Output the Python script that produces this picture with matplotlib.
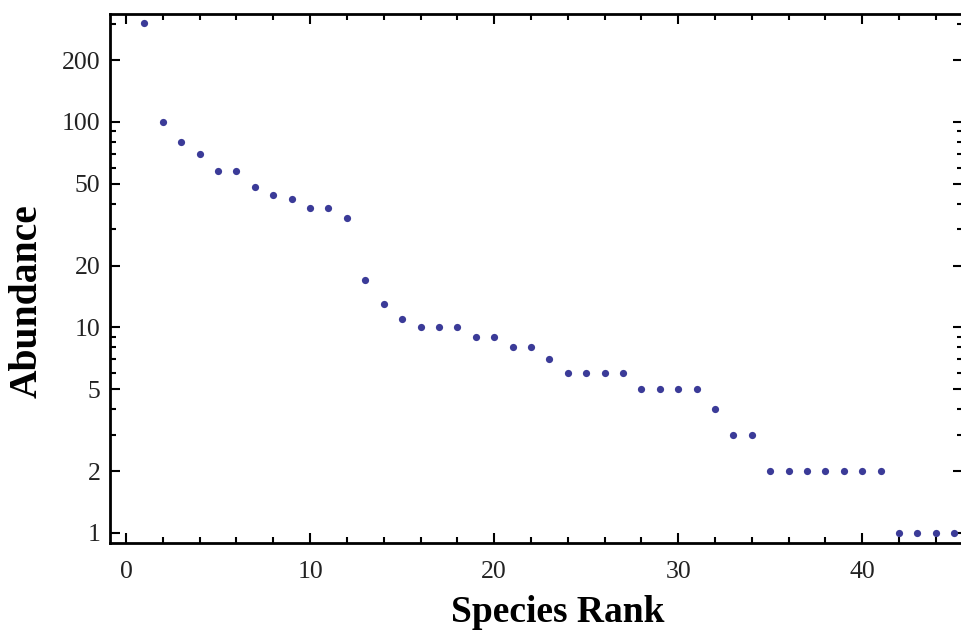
import matplotlib.pyplot as plt
from matplotlib.ticker import FixedLocator, FixedFormatter, NullFormatter

# species rank vs abundance
rank = list(range(1, 46))
abundance = [304, 100, 80, 70, 58, 58, 48, 44, 42, 38, 38, 34,
             17, 13, 11, 10, 10, 10, 9, 9, 8, 8, 7,
             6, 6, 6, 6, 5, 5, 5, 5, 4, 3, 3,
             2, 2, 2, 2, 2, 2, 2, 1, 1, 1, 1]

y_ticks = [1, 2, 5, 10, 20, 50, 100, 200]
y_minor = [3, 4, 6, 7, 8, 9, 30, 40, 60, 70, 80, 90, 300]

fig = plt.figure(figsize=(9.61, 6.37), dpi=100)
ax = fig.add_axes([0.1145, 0.1476, 0.888, 0.8304])

ax.plot(rank, abundance, 'o', color='#3b3b98', markersize=5.2, markeredgewidth=0)

ax.set_yscale('log')
ax.set_xlim(-0.87, 45.5)
ax.set_ylim(0.894, 335)

ax.xaxis.set_major_locator(FixedLocator([0, 10, 20, 30, 40]))
ax.xaxis.set_minor_locator(FixedLocator([x for x in range(0, 46, 2) if x % 10 != 0]))
ax.yaxis.set_major_locator(FixedLocator(y_ticks))
ax.yaxis.set_major_formatter(FixedFormatter([str(v) for v in y_ticks]))
ax.yaxis.set_minor_locator(FixedLocator(y_minor))
ax.yaxis.set_minor_formatter(NullFormatter())

ax.tick_params(which='both', direction='in', top=True, right=True,
               width=1.5, colors='black')
ax.tick_params(which='major', length=7, labelsize=18.5)
ax.tick_params(axis='x', which='major', pad=13)
ax.tick_params(axis='y', which='major', pad=7)
ax.tick_params(which='minor', length=4)
for lab in ax.get_xticklabels() + ax.get_yticklabels():
    lab.set_family('Liberation Serif')
    lab.set_color('#222222')

for sp in ax.spines.values():
    sp.set_linewidth(2)

ax.set_xlabel('Species Rank', fontsize=27, fontweight='bold',
              family='Liberation Serif')
ax.set_ylabel('Abundance', fontsize=28.5, fontweight='bold',
              family='Liberation Serif')
ax.xaxis.set_label_coords(0.525, -0.099)
ax.yaxis.set_label_coords(-0.076, 0.4575)

fig.savefig('out.png', dpi=100)
